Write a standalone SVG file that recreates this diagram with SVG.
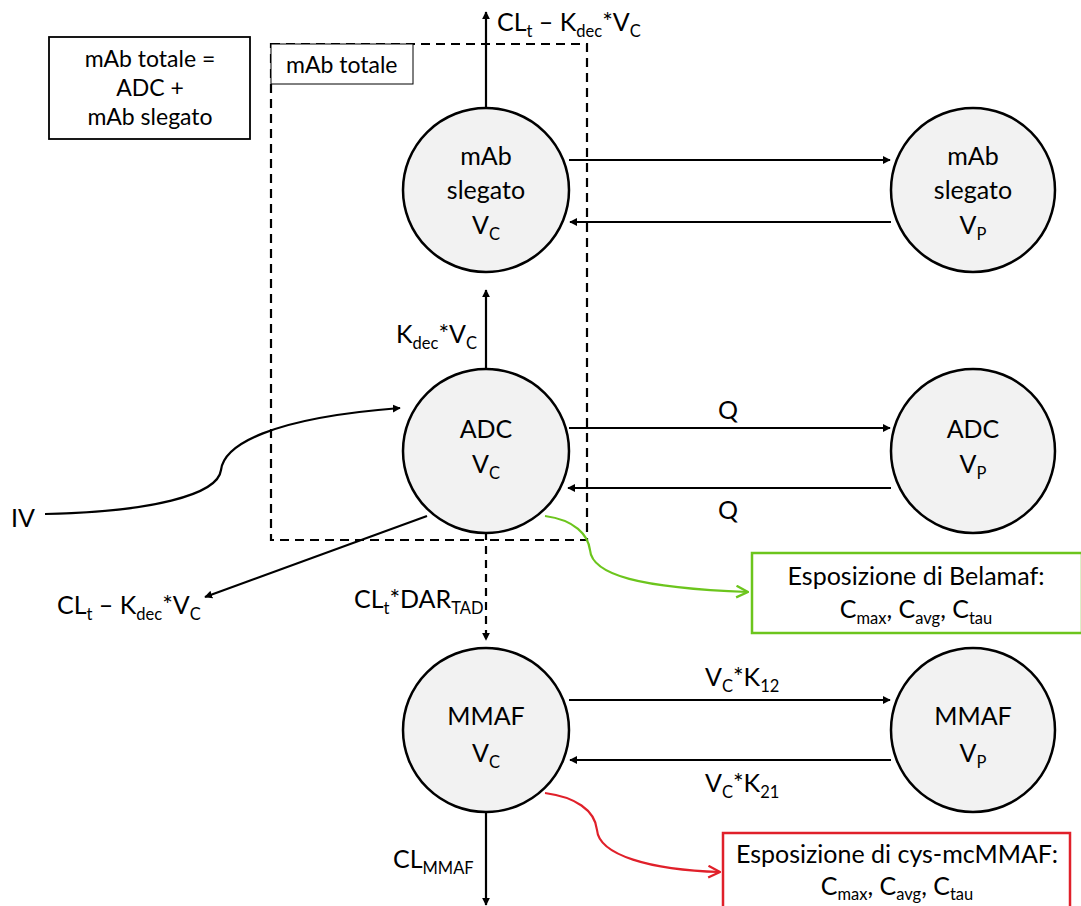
<svg xmlns="http://www.w3.org/2000/svg" width="1081" height="906" viewBox="0 0 1081 906">
<defs>
<marker id="ah" viewBox="0 0 10 10" refX="9" refY="5" markerWidth="8" markerHeight="8" markerUnits="userSpaceOnUse" orient="auto"><path d="M0,0 L10,5 L0,10 z" fill="#000"/></marker>
<marker id="ag" viewBox="0 0 12 12" refX="11" refY="6" markerWidth="14" markerHeight="14" markerUnits="userSpaceOnUse" orient="auto"><path d="M1,1 L11,6 L1,11" fill="none" stroke="#6cc51d" stroke-width="2"/></marker>
<marker id="ar" viewBox="0 0 12 12" refX="11" refY="6" markerWidth="14" markerHeight="14" markerUnits="userSpaceOnUse" orient="auto"><path d="M1,1 L11,6 L1,11" fill="none" stroke="#e0202a" stroke-width="2"/></marker>
</defs>
<style>
text{font-family:Lato,"Open Sans","Liberation Sans",sans-serif;font-size:25px;fill:#000}
.c{text-anchor:middle}
.node{fill:#f2f2f2;stroke:#000;stroke-width:2.5}
.arr{fill:none;stroke:#000;stroke-width:2.2;marker-end:url(#ah)}
.sub{font-size:16.5px}
</style>
<rect width="1081" height="906" fill="#fff"/>
<g id="legend">
<rect x="49" y="37" width="201" height="102" fill="#fff" stroke="#000" stroke-width="1.8"/>
<text class="c" x="150" y="67" style="font-size:23px">mAb totale =</text>
<text class="c" x="150" y="96" style="font-size:23px">ADC +</text>
<text class="c" x="150" y="125" style="font-size:23px">mAb slegato</text>
</g>
<g id="group-total">
<rect x="271" y="44" width="316" height="496" fill="none" stroke="#000" stroke-width="2.2" stroke-dasharray="9,6"/>
<rect x="271" y="44" width="142" height="40" fill="#fff" stroke="#000" stroke-width="1"/>
<text x="286" y="73" style="font-size:23px">mAb totale</text>
</g>
<g id="connectors">
<path class="arr" d="M486,108 V12"/>
<path class="arr" d="M569,160 H890"/>
<path class="arr" d="M891,222 H570"/>
<path class="arr" d="M486,370 V290"/>
<path class="arr" d="M569,428 H890"/>
<path class="arr" d="M891,488 H568"/>
<path class="arr" d="M486,532 V640" stroke-dasharray="8,6"/>
<path class="arr" d="M427,516 L205,597"/>
<path class="arr" d="M45,514 C150,512 218,495 221,470 C224,445 270,418 400,408"/>
<path class="arr" d="M569,700 H890"/>
<path class="arr" d="M891,760 H570"/>
<path class="arr" d="M486,812 V905"/>
<path d="M545,516 C575,520 588,535 590,550 C592,575 640,588 748,592" fill="none" stroke="#6cc51d" stroke-width="2.2" marker-end="url(#ag)"/>
<path d="M545,793 C575,797 595,810 597,830 C599,855 650,870 720,872" fill="none" stroke="#e0202a" stroke-width="2.2" marker-end="url(#ar)"/>
</g>
<g id="labels">
<text x="497" y="31">CL<tspan class="sub" dy="6">t</tspan><tspan dy="-6"> – K</tspan><tspan class="sub" dy="6">dec</tspan><tspan dy="-6">*V</tspan><tspan class="sub" dy="6">C</tspan></text>
<text x="396" y="343">K<tspan class="sub" dy="6">dec</tspan><tspan dy="-6">*V</tspan><tspan class="sub" dy="6">C</tspan></text>
<text class="c" x="728" y="419">Q</text>
<text class="c" x="728" y="519">Q</text>
<text x="354" y="608">CL<tspan class="sub" dy="6">t</tspan><tspan dy="-6">*DAR</tspan><tspan class="sub" dy="6">TAD</tspan></text>
<text x="57" y="614">CL<tspan class="sub" dy="6">t</tspan><tspan dy="-6"> – K</tspan><tspan class="sub" dy="6">dec</tspan><tspan dy="-6">*V</tspan><tspan class="sub" dy="6">C</tspan></text>
<text x="11" y="527">IV</text>
<text x="705" y="686">V<tspan class="sub" dy="6">C</tspan><tspan dy="-6">*K</tspan><tspan class="sub" dy="6">12</tspan></text>
<text x="705" y="792">V<tspan class="sub" dy="6">C</tspan><tspan dy="-6">*K</tspan><tspan class="sub" dy="6">21</tspan></text>
<text x="393" y="868">CL<tspan class="sub" dy="6">MMAF</tspan></text>
</g>
<g id="mab-vc">
<ellipse class="node" cx="486" cy="190" rx="83" ry="82"/>
<text class="c" x="486" y="165">mAb</text>
<text class="c" x="486" y="199">slegato</text>
<text class="c" x="486" y="234">V<tspan class="sub" dy="6">C</tspan></text>
</g>
<g id="mab-vp">
<ellipse class="node" cx="973" cy="190" rx="82" ry="82"/>
<text class="c" x="973" y="165">mAb</text>
<text class="c" x="973" y="199">slegato</text>
<text class="c" x="973" y="234">V<tspan class="sub" dy="6">P</tspan></text>
</g>
<g id="adc-vc">
<ellipse class="node" cx="486" cy="451" rx="83" ry="82"/>
<text class="c" x="486" y="438">ADC</text>
<text class="c" x="486" y="473">V<tspan class="sub" dy="6">C</tspan></text>
</g>
<g id="adc-vp">
<ellipse class="node" cx="973" cy="451" rx="82" ry="82"/>
<text class="c" x="973" y="438">ADC</text>
<text class="c" x="973" y="473">V<tspan class="sub" dy="6">P</tspan></text>
</g>
<g id="mmaf-vc">
<ellipse class="node" cx="486" cy="730" rx="83" ry="82"/>
<text class="c" x="486" y="725">MMAF</text>
<text class="c" x="486" y="762">V<tspan class="sub" dy="6">C</tspan></text>
</g>
<g id="mmaf-vp">
<ellipse class="node" cx="973" cy="730" rx="82" ry="82"/>
<text class="c" x="973" y="725">MMAF</text>
<text class="c" x="973" y="762">V<tspan class="sub" dy="6">P</tspan></text>
</g>
<g id="exp-belamaf">
<rect x="752" y="553" width="330" height="80" fill="#fff" stroke="#6cc51d" stroke-width="2.5"/>
<text class="c" x="916" y="585">Esposizione di Belamaf:</text>
<text class="c" x="916" y="618">C<tspan class="sub" dy="6">max</tspan><tspan dy="-6">, C</tspan><tspan class="sub" dy="6">avg</tspan><tspan dy="-6">, C</tspan><tspan class="sub" dy="6">tau</tspan></text>
</g>
<g id="exp-mmaf">
<rect x="723" y="833" width="347" height="80" fill="#fff" stroke="#e0202a" stroke-width="2.5"/>
<text class="c" x="897" y="863">Esposizione di cys-mcMMAF:</text>
<text class="c" x="897" y="895">C<tspan class="sub" dy="5">max</tspan><tspan dy="-5">, C</tspan><tspan class="sub" dy="5">avg</tspan><tspan dy="-5">, C</tspan><tspan class="sub" dy="5">tau</tspan></text>
</g>
</svg>
